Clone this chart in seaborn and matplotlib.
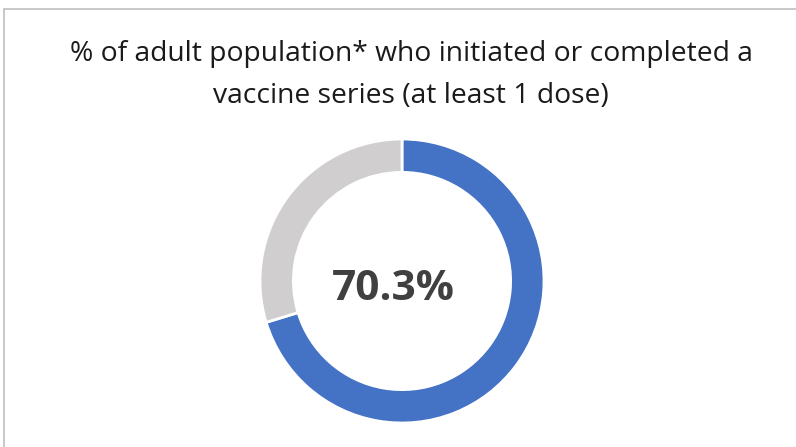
import matplotlib
matplotlib.use("Agg")
import matplotlib.pyplot as plt
import seaborn as sns
from matplotlib.patches import Rectangle

# data
labels = ["Initiated or completed", "Not vaccinated"]
shares = [70.3, 29.7]
colors = ["#4472C4", "#D0CECE"]
title = "% of adult population* who initiated or completed a\nvaccine series (at least 1 dose)"
center_label = f"{shares[0]:.1f}%"

sns.set_theme(style="white")
plt.rcParams['font.family'] = ['Open Sans', 'DejaVu Sans']

W, H = 796, 447
fig = plt.figure(figsize=(W / 100, H / 100), dpi=100)

# light frame around the chart area (cut at right/bottom like the source)
fig.patches.append(Rectangle((4 / W, -0.1), 1.2, (H - 9) / H + 0.1, transform=fig.transFigure,
                             fill=False, edgecolor="#BFBFBF", linewidth=1.2))

fig.text(411 / W, 1 - 75 / H, title, ha="center", va="center", fontsize=20.3,
         color="#1a1a1a", linespacing=1.68)

# donut
cx, cy, r = 402, 281, 142
pad = 4
ax = fig.add_axes([(cx - r - pad) / W, (H - cy - r - pad) / H, 2 * (r + pad) / W, 2 * (r + pad) / H])
ax.pie(shares, colors=colors, startangle=90, counterclock=False, radius=1,
       wedgeprops=dict(width=0.235, edgecolor="white", linewidth=2))
lim = (r + pad) / r
ax.set_xlim(-lim, lim)
ax.set_ylim(-lim, lim)
ax.set_aspect("auto")
ax.axis("off")
ax.text(-9 / r, -9 / r, center_label, ha="center", va="center", fontsize=30.5, fontweight="bold",
        color="#404040")

fig.savefig("out.png", dpi=100)
